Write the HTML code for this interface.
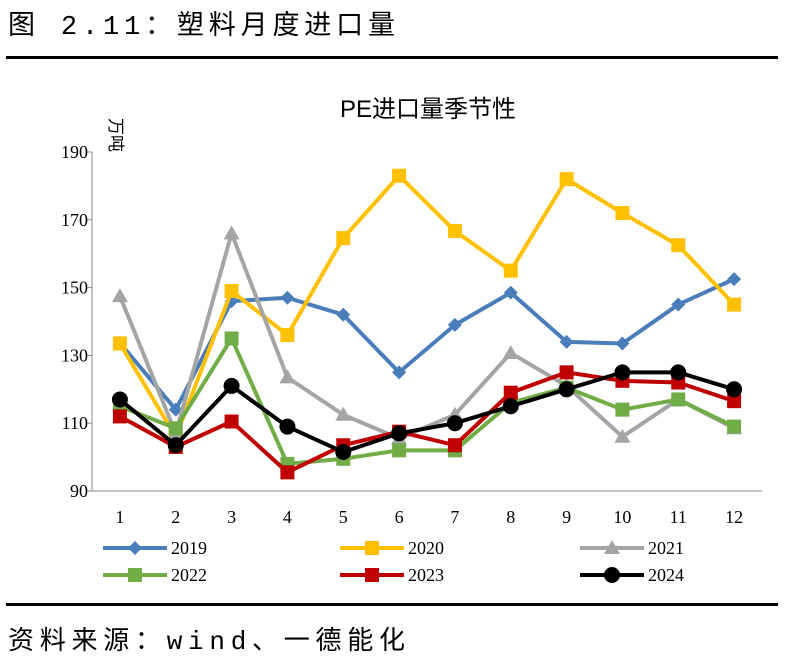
<!DOCTYPE html>
<html><head><meta charset="utf-8"><style>
body{margin:0;background:#fff;width:790px;height:666px;overflow:hidden;font-family:"Liberation Serif","Noto Serif CJK SC",serif;}
</style></head><body>
<svg width="790" height="666" xmlns="http://www.w3.org/2000/svg">
<text x="8" y="34" font-size="27" textLength="387" lengthAdjust="spacing" font-family="Liberation Mono,'Noto Sans CJK SC',monospace">图 2.11：塑料月度进口量</text>
<rect x="6" y="56" width="772" height="3" fill="#000"/>
<rect x="6" y="603" width="772" height="3" fill="#000"/>
<text x="8" y="649" font-size="26" textLength="397" lengthAdjust="spacing" font-family="Liberation Mono,'Noto Sans CJK SC',monospace">资料来源：wind、一德能化</text>
<text x="428" y="117" font-size="24" text-anchor="middle" font-family="'Liberation Sans','Noto Sans CJK SC',sans-serif">PE进口量季节性</text>
<text x="110" y="118" font-size="17" transform="rotate(90 110 118)" font-family="'Liberation Sans','Noto Sans CJK SC',sans-serif">万吨</text>
<g id="chart"></g>
</svg>
<script>
const categories=[1,2,3,4,5,6,7,8,9,10,11,12];
const yTicks=[90,110,130,150,170,190];
const seriesNames=["2019","2020","2021","2022","2023","2024"];
const s2019=[133.7,114,146,147,142,125,139,148.5,134,133.5,145,152.5];
const s2020=[133.5,106,149,136,164.6,183,166.7,155,182,172,162.5,145];
const s2021=[147.5,107,166,123.5,112.5,105.5,112.5,130.7,121,106,117,108.5];
const s2022=[115,108.5,135,98,99.5,102,102,116,120.5,114,117,109];
const s2023=[112,103,110.5,95.5,103.5,107.5,103.5,119,125,122.5,122,116.5];
const s2024=[117,103.5,121,109,101.5,107,110,115,120,125,125,120];
const colors=["#4a7ebb","#ffc000","#a5a5a5","#70ad47","#c00000","#000000"];
const markers=["diamond","square","triangle","square","square","circle"];
const allSeries=[s2019,s2020,s2021,s2022,s2023,s2024];
const X0=92,X1=762,Y0=491,Y1=152,ymin=90,ymax=190;
const xs=i=>X0+(X1-X0)/categories.length*(i+0.5);
const ys=v=>Y0-(v-ymin)/(ymax-ymin)*(Y0-Y1);
const NS="http://www.w3.org/2000/svg";
const g=document.getElementById('chart');
function el(t,a,p){const e=document.createElementNS(NS,t);for(const k in a)e.setAttribute(k,a[k]);(p||g).appendChild(e);return e;}
let ax=el('line',{x1:X0,y1:Y1,x2:X0,y2:Y0,stroke:'#888','stroke-width':1});


let bx=el('line',{x1:X0,y1:Y0,x2:X1,y2:Y0,stroke:'#888','stroke-width':1});


yTicks.forEach(v=>{
 const t=el('text',{x:X0-4,y:ys(v)+6,'text-anchor':'end','font-size':18});t.textContent=v;
 
 
 el('line',{x1:X0-5,y1:ys(v),x2:X0,y2:ys(v),stroke:'#888'});
});
categories.forEach((c,i)=>{
 const t=el('text',{x:xs(i),y:523,'text-anchor':'middle','font-size':18});t.textContent=c;
 
 
});
function marker(type,x,y,col,parent){
 let m;
 if(type==='diamond')m=el('polygon',{points:`${x},${y-7} ${x+7},${y} ${x},${y+7} ${x-7},${y}`,fill:col},parent);
 else if(type==='square')m=el('rect',{x:x-7,y:y-7,width:14,height:14,fill:col},parent);
 else if(type==='triangle')m=el('polygon',{points:`${x},${y-8} ${x+8},${y+6} ${x-8},${y+6}`,fill:col},parent);
 else m=el('circle',{cx:x,cy:y,r:8,fill:col},parent);
 return m;
}
allSeries.forEach((s,k)=>{
 const sg=el('g',{});
 
 
 const p=el('polyline',{points:s.map((v,i)=>xs(i)+','+ys(v)).join(' '),fill:'none',stroke:colors[k],'stroke-width':4,'stroke-linejoin':'round'},sg);
 
 
 s.forEach((v,i)=>{
  const m=marker(markers[k],xs(i),ys(v),colors[k],sg);
  
  
 });
});
const legX=[103,340,580],legY=[548,575];
seriesNames.forEach((n,k)=>{
 const lx=legX[k%3],ly=legY[Math.floor(k/3)];
 const lg=el('g',{});
 
 
 el('line',{x1:lx,y1:ly,x2:lx+64,y2:ly,stroke:colors[k],'stroke-width':4},lg);
 marker(markers[k],lx+32,ly,colors[k],lg);
 const t=el('text',{x:lx+68,y:ly+6,'font-size':18},lg);t.textContent=n;
});
</script>
</body></html>
